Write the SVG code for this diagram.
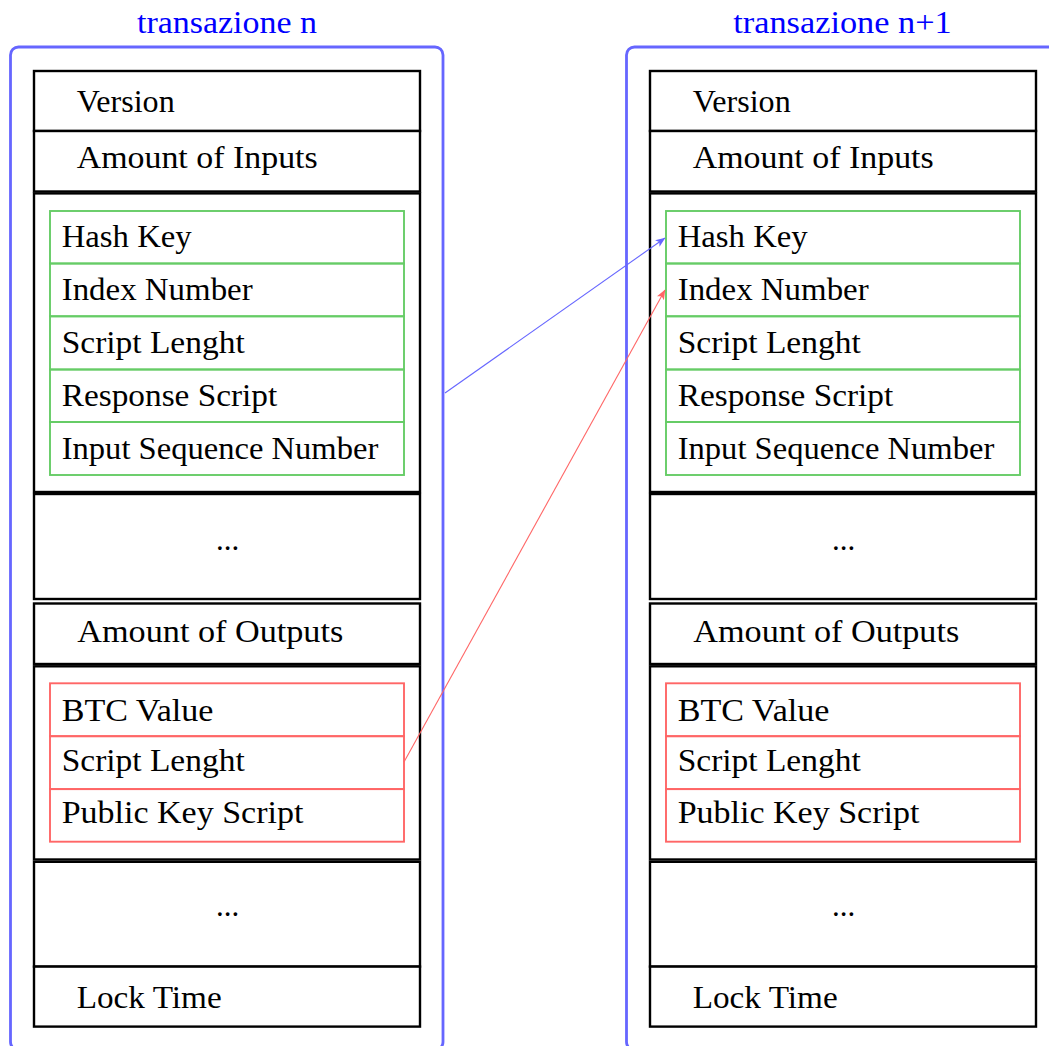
<svg xmlns="http://www.w3.org/2000/svg" width="1049" height="1046" viewBox="0 0 1049 1046">
<style>
text { font-family: "Liberation Serif", "Times New Roman", serif; font-size: 31px; fill: #000; }
.title { fill: #0000ff; text-anchor: middle; }
.dots { text-anchor: middle; }
.frame { fill: none; stroke: #6666ff; stroke-width: 2.8; }
.box { fill: #fff; stroke: #000; stroke-width: 2.4; }
.in { fill: none; stroke: #66cc66; stroke-width: 1.9; }
.out { fill: none; stroke: #ff6666; stroke-width: 1.9; }
.conn { fill: none; stroke-width: 1.1; }
</style>
<defs>
<marker id="ahBlue" viewBox="0 0 10 8" refX="9.5" refY="4" markerWidth="10" markerHeight="8" markerUnits="userSpaceOnUse" orient="auto">
<path d="M0,0 L10,4 L0,8 L2.5,4 Z" fill="#6666ff"/>
</marker>
<marker id="ahRed" viewBox="0 0 10 8" refX="9.5" refY="4" markerWidth="10" markerHeight="8" markerUnits="userSpaceOnUse" orient="auto">
<path d="M0,0 L10,4 L0,8 L2.5,4 Z" fill="#ff6666"/>
</marker>
<g id="tx">
<rect class="box" x="34" y="71" width="386" height="60"/>
<text x="76.7" y="112.3" textLength="98" lengthAdjust="spacingAndGlyphs">Version</text>
<rect class="box" x="34" y="131" width="386" height="60.5"/>
<text x="76.7" y="168.3" textLength="241" lengthAdjust="spacingAndGlyphs">Amount of Inputs</text>
<rect class="box" x="34" y="193.4" width="386" height="298.6"/>
<rect class="in" x="50" y="211" width="354" height="52.5"/>
<text x="61.7" y="246.7" textLength="130" lengthAdjust="spacingAndGlyphs">Hash Key</text>
<rect class="in" x="50" y="263.5" width="354" height="52.8"/>
<text x="61.7" y="300" textLength="191" lengthAdjust="spacingAndGlyphs">Index Number</text>
<rect class="in" x="50" y="316.3" width="354" height="53.2"/>
<text x="61.7" y="353" textLength="183" lengthAdjust="spacingAndGlyphs">Script Lenght</text>
<rect class="in" x="50" y="369.5" width="354" height="52.5"/>
<text x="61.7" y="406" textLength="215.6" lengthAdjust="spacingAndGlyphs">Response Script</text>
<rect class="in" x="50" y="422" width="354" height="53"/>
<text x="61.7" y="459.3" textLength="316.6" lengthAdjust="spacingAndGlyphs">Input Sequence Number</text>
<rect class="box" x="34" y="494" width="386" height="105"/>
<text class="dots" x="227.5" y="549.5">...</text>
<rect class="box" x="34" y="603.5" width="386" height="60.5"/>
<text x="77.3" y="641.7" textLength="266" lengthAdjust="spacingAndGlyphs">Amount of Outputs</text>
<rect class="box" x="34" y="666.3" width="386" height="193.2"/>
<rect class="out" x="50" y="683.3" width="354" height="52.9"/>
<text x="61.7" y="720.7" textLength="151.7" lengthAdjust="spacingAndGlyphs">BTC Value</text>
<rect class="out" x="50" y="736.2" width="354" height="52.9"/>
<text x="61.7" y="771" textLength="183" lengthAdjust="spacingAndGlyphs">Script Lenght</text>
<rect class="out" x="50" y="789.1" width="354" height="52.6"/>
<text x="61.7" y="823.3" textLength="241.7" lengthAdjust="spacingAndGlyphs">Public Key Script</text>
<rect class="box" x="34" y="861.8" width="386" height="104.8"/>
<text class="dots" x="227.5" y="916">...</text>
<rect class="box" x="34" y="966.6" width="386" height="60"/>
<text x="76.7" y="1008.3" textLength="145" lengthAdjust="spacingAndGlyphs">Lock Time</text>
</g>
</defs>
<rect width="1049" height="1046" fill="#fff"/>
<g id="transazione-n">
<rect class="frame" x="10.5" y="47" width="432.5" height="1003" rx="8"/>
<text class="title" x="227" y="33.3" textLength="180" lengthAdjust="spacingAndGlyphs">transazione n</text>
<use href="#tx"/>
</g>
<g id="transazione-n1">
<rect class="frame" x="626.5" y="47" width="432.5" height="1003" rx="8"/>
<text class="title" x="842.5" y="32.8" textLength="218.4" lengthAdjust="spacingAndGlyphs">transazione n+1</text>
<use href="#tx" x="616"/>
</g>
<g id="connectors">
<path class="conn" d="M445,393 L665,238" stroke="#6666ff" marker-end="url(#ahBlue)"/>
<path class="conn" d="M404,762 L665,290" stroke="#ff6666" marker-end="url(#ahRed)"/>
</g>
</svg>
